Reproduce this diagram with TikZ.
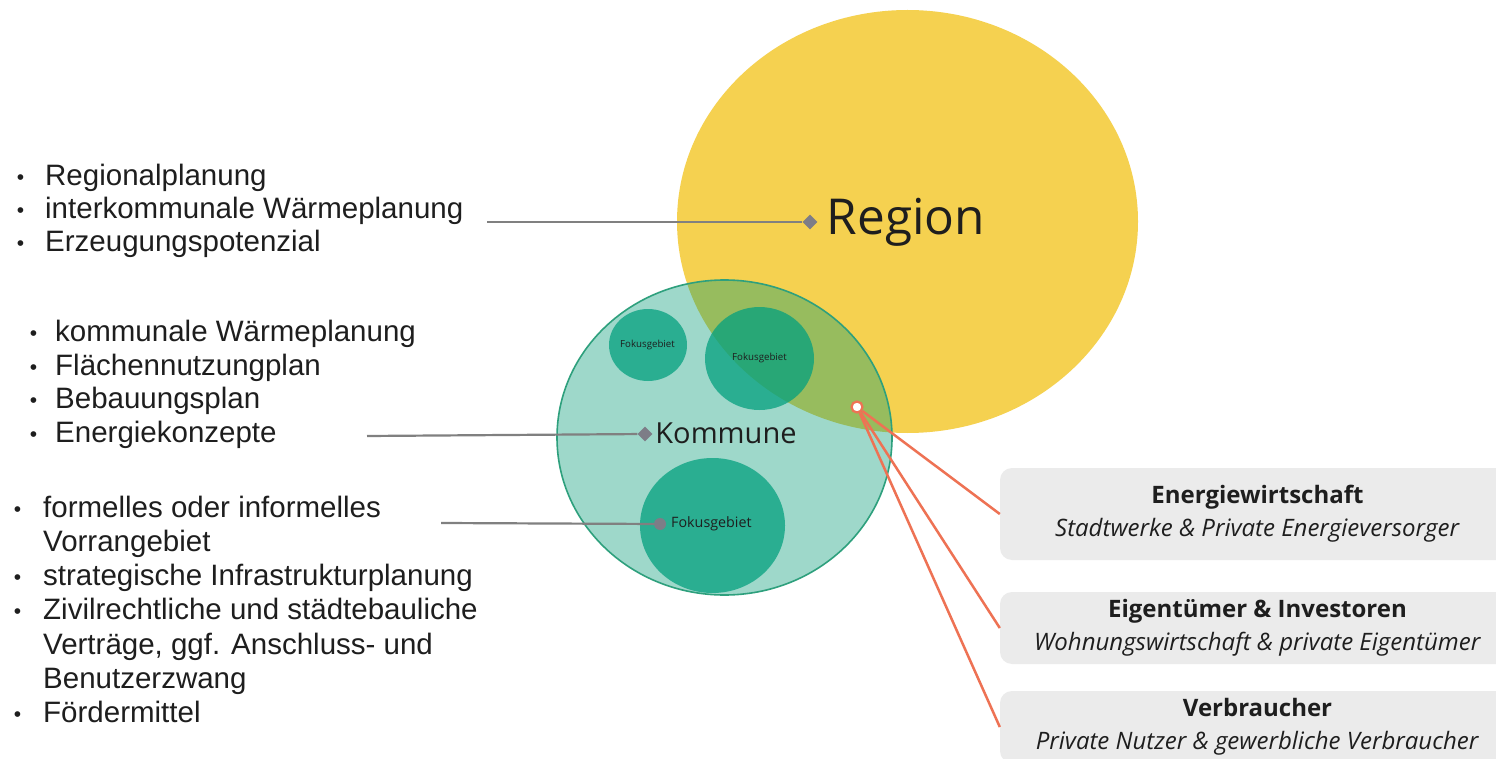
\documentclass[tikz,border=0pt]{standalone}
\usepackage{fontspec}
\setmainfont{Liberation Sans}
\newfontfamily\osans{Open Sans}
\usetikzlibrary{shapes.geometric}
\definecolor{regyellow}{RGB}{245,209,80}
\definecolor{kteal}{RGB}{0,155,118}
\definecolor{kborder}{RGB}{46,160,125}
\definecolor{fokus}{RGB}{4,160,127}
\definecolor{txt}{RGB}{30,30,30}
\definecolor{conngray}{RGB}{128,128,128}
\definecolor{diagray}{RGB}{125,125,135}
\definecolor{orangeline}{RGB}{238,114,84}
\definecolor{boxgray}{RGB}{235,235,235}
\newcommand\bul[1]{\llap{\raisebox{1pt}{\fontsize{21}{21}\selectfont\textbullet}\hspace{#1}}}
\begin{document}
\begin{tikzpicture}[x=1pt,y=-1pt,
  item/.style={anchor=base west, inner sep=0pt, font=\fontsize{29.5}{33}\selectfont, text=txt},
  fokusbox/.style={ellipse, fill=fokus, fill opacity=0.75, inner sep=0pt},
  foklabel/.style={inner sep=0pt, text=txt},
  conn/.style={draw=conngray, line width=2.2pt},
  marker/.style={diamond, fill=diagray, minimum size=15pt, inner sep=0pt},
  oline/.style={draw=orangeline, line width=2.5pt},
  boxnode/.style={rounded corners=12pt, fill=boxgray, minimum width=515pt, inner sep=0pt, align=center, font=\osans\fontsize{24}{33}\selectfont, text=txt}]
\useasboundingbox (0,0) rectangle (1496,759);
\clip (0,0) rectangle (1496,759);
\fill[white] (0,0) rectangle (1496,759);

% circles
\node[ellipse, fill=regyellow, minimum width=461pt, minimum height=423pt, inner sep=0pt] (region) at (907.5,221.5) {};
\node[ellipse, fill=kteal, fill opacity=0.38, minimum width=335pt, minimum height=315pt, inner sep=0pt] (kommune) at (724.5,437.5) {};
\draw[kborder, line width=1.6pt] (kommune.center) ellipse [x radius=167.5pt, y radius=157.5pt];
\node[fokusbox, minimum width=78pt, minimum height=72pt] (f1) at (648,345) {};
\node[fokusbox, minimum width=109pt, minimum height=103pt] (f2) at (759.5,358.5) {};
\node[fokusbox, minimum width=145pt, minimum height=135pt] (f3) at (712.5,525.5) {};

% labels in circles
\node[anchor=base, inner sep=0pt, text=txt, font=\osans\fontsize{49.5}{52}\selectfont] (regionlabel) at (906,235) {Region};
\node[anchor=base, inner sep=0pt, text=txt, font=\osans\fontsize{29}{31}\selectfont] (kommunelabel) at (726,443) {Kommune};
\node[foklabel, font=\osans\fontsize{9.7}{10}\selectfont] (f1label) at (647.5,345) {Fokusgebiet};
\node[foklabel, font=\osans\fontsize{9.7}{10}\selectfont] (f2label) at (759.5,358) {Fokusgebiet};
\node[foklabel, anchor=west, font=\osans\fontsize{14.3}{15}\selectfont] (f3label) at (671,524) {Fokusgebiet};

% markers
\node[marker] (dR) at (810,222) {};
\node[marker] (dK) at (645,434) {};
\node[circle, fill=diagray, minimum size=12pt, inner sep=0pt] (dF) at (660,524) {};

% left lists
\node[item] (r1) at (45,185.5) {\bul{21pt}Regionalplanung};
\node[item] (r2) at (45,218.5) {\bul{21pt}interkommunale Wärmeplanung};
\node[item] (r3) at (45,251.5) {\bul{21pt}Erzeugungspotenzial};

\node[item] (k1) at (55,341.5) {\bul{18pt}kommunale Wärmeplanung};
\node[item] (k2) at (55,375) {\bul{18pt}Flächennutzungplan};
\node[item] (k3) at (55,408.5) {\bul{18pt}Bebauungsplan};
\node[item] (k4) at (55,442) {\bul{18pt}Energiekonzepte};

\node[item] (v1) at (43,517) {\bul{22pt}formelles oder informelles};
\node[item] (v2) at (43,551) {Vorrangebiet};
\node[item] (v3) at (43,585.5) {\bul{22pt}strategische Infrastrukturplanung};
\node[item] (v4) at (43,619.5) {\bul{22pt}Zivilrechtliche und städtebauliche};
\node[item] (v5) at (43,654) {Verträge, ggf. Anschluss- und};
\node[item] (v6) at (43,688) {Benutzerzwang};
\node[item] (v7) at (43,722) {\bul{22pt}Fördermittel};

% grey connectors
\coordinate (cR) at (487,222);
\coordinate (cK) at (367,436);
\coordinate (cF) at (441,523);
\draw[conn] (cR) -- (dR);
\draw[conn] (cK) -- (dK);
\draw[conn] (cF) -- (dF);

% stakeholder boxes
\node[boxnode, minimum height=92pt] (b1) at (1257.5,514) {\textbf{Energiewirtschaft}\\\textit{Stadtwerke \& Private Energieversorger}};
\node[boxnode, minimum height=72pt] (b2) at (1257.5,628) {\textbf{Eigentümer \& Investoren}\\\textit{Wohnungswirtschaft \& private Eigentümer}};
\node[boxnode, minimum height=72pt] (b3) at (1257.5,727) {\textbf{Verbraucher}\\\textit{Private Nutzer \& gewerbliche Verbraucher}};

% orange connectors
\node[circle, draw=orangeline, fill=white, line width=2.2pt, minimum size=11pt, inner sep=0pt] (m) at (857,407) {};
\draw[oline] (m) -- (b1.west);
\draw[oline] (m) -- (b2.west);
\draw[oline] (m) -- (b3.west);
\end{tikzpicture}
\end{document}
